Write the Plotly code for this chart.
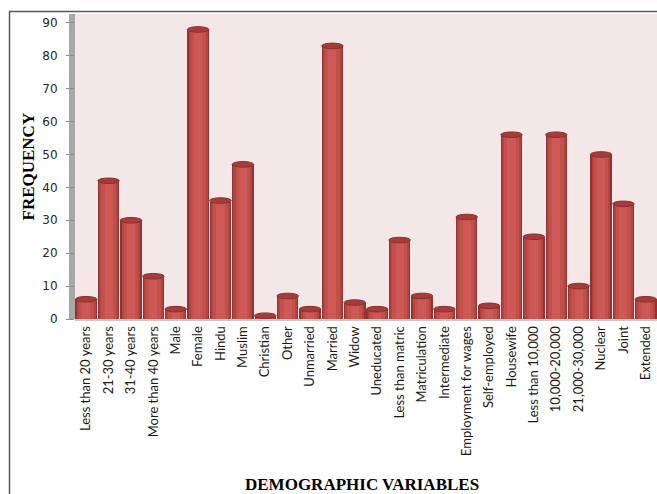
import plotly.graph_objects as go

categories = ["Less than 20 years", "21-30 years", "31-40 years", "More than 40 years",
              "Male", "Female", "Hindu", "Muslim", "Christian", "Other", "Unmarried",
              "Married", "Widow", "Uneducated", "Less than matric", "Matriculation",
              "Intermediate", "Employment for wages", "Self-employed", "Housewife",
              "Less than 10,000", "10,000-20,000", "21,000-30,000", "Nuclear", "Joint",
              "Extended"]
frequency = [6, 42, 30, 13, 3, 88, 36, 47, 1, 7, 3, 83, 5, 3, 24, 7, 3, 31, 4, 56,
             25, 56, 10, 50, 35, 6]
y_ticks = [0, 10, 20, 30, 40, 50, 60, 70, 80, 90]

L, R, T, B = 75, 0, 14, 175
W, H = 657, 494
pw, ph = W - L - R, H - T - B

fig = go.Figure()
# cylinder-like shading using overlaid bars of decreasing width
layers = [(0.96, "#8f3432"), (0.84, "#b24542"), (0.66, "#c4504c"), (0.36, "#cd5955")]
for wdt, col in layers:
    fig.add_trace(go.Bar(x=list(range(len(categories))), y=frequency, width=wdt,
                         marker=dict(color=col, line=dict(width=0)),
                         hoverinfo="skip", showlegend=False))

shapes = []
# top caps of cylinders
for i, v in enumerate(frequency):
    shapes.append(dict(type="circle", xref="x", yref="y",
                       x0=i - 0.48, x1=i + 0.48, y0=v - 0.85, y1=v + 0.85,
                       fillcolor="#a63c3a", line=dict(color="#8a2f2d", width=1)))
# left 3D wall
shapes.append(dict(type="rect", xref="paper", yref="paper",
                   x0=-6 / pw, x1=0, y0=0, y1=1,
                   fillcolor="#a8a8a8", line=dict(width=0), layer="below"))
# outer frame
shapes.append(dict(type="rect", xref="paper", yref="paper",
                   x0=(9.5 - L) / pw, x1=1.05, y0=-1, y1=1 + 2.5 / ph,
                   fillcolor="rgba(0,0,0,0)", line=dict(color="#595959", width=1.5)))

fig.update_layout(
    width=W, height=H,
    margin=dict(l=L, r=R, t=T, b=B, autoexpand=False),
    paper_bgcolor="white", plot_bgcolor="#f3e7e7",
    barmode="overlay", bargap=0.0,
    shapes=shapes,
    xaxis=dict(tickmode="array", tickvals=list(range(len(categories))), ticktext=categories,
               tickangle=-90, range=[-0.5, len(categories) - 0.5],
               tickfont=dict(family="Lato", size=13, color="#1a1a1a"),
               showgrid=False, zeroline=False, showline=True, linecolor="#c8c8c8",
               linewidth=2, ticks=""),
    yaxis=dict(range=[0, 92.7], tickvals=y_ticks, showgrid=False, zeroline=False,
               ticks="outside", ticklen=8, tickcolor="#8c8c8c",
               tickfont=dict(family="DejaVu Sans", size=12, color="#262626"),
               ticklabelstandoff=6, showline=False),
    annotations=[
        dict(text="<b>FREQUENCY</b>", xref="paper", yref="paper",
             x=(28 - L) / pw, y=0.5, xanchor="center", yanchor="middle",
             textangle=-90, showarrow=False,
             font=dict(family="Liberation Serif", size=17, color="black")),
        dict(text="<b>DEMOGRAPHIC VARIABLES</b>", xref="paper", yref="paper",
             x=(362 - L) / pw, y=-(484 - (T + ph)) / ph, xanchor="center",
             yanchor="middle", showarrow=False,
             font=dict(family="Liberation Serif", size=17, color="black")),
    ],
)

fig.write_html("out.html", config={"displayModeBar": False},
               post_script="document.body.style.margin='0';document.body.style.overflow='hidden';")
